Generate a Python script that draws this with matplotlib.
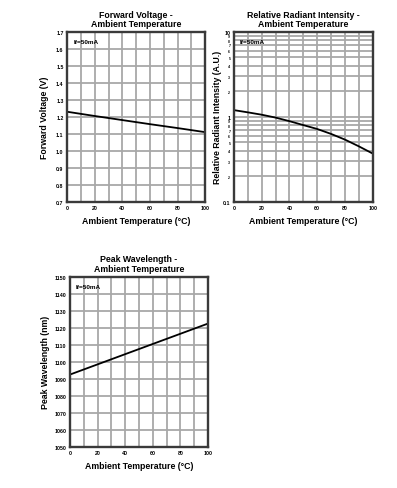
import numpy as np
import matplotlib.pyplot as plt
from matplotlib.ticker import MultipleLocator, FixedLocator, FixedFormatter

plt.rcParams['font.family'] = ['Liberation Sans', 'DejaVu Sans']
plt.rcParams['font.weight'] = 'bold'

# --- dados ---
temp = [0, 20, 40, 60, 80, 100]
vf = [1.23, 1.205, 1.181, 1.157, 1.134, 1.11]
temp_ri = [0, 10, 20, 30, 40, 50, 60, 70, 80, 90, 100]
ri = [1.20, 1.13, 1.06, 0.98, 0.89, 0.80, 0.72, 0.63, 0.54, 0.45, 0.37]
wl = [1092.5, 1098.5, 1104.5, 1110.5, 1116.5, 1122.5]

GRID = '#a8a8a8'
FRAME = '#3a3a3a'
TICK_FS = 3.8
LABEL_FS = 6.3


def estilo(ax):
    ax.grid(True, which='both', color=GRID, lw=1.3)
    ax.set_axisbelow(True)
    for s in ax.spines.values():
        s.set_color(FRAME)
        s.set_linewidth(1.7)
    ax.tick_params(which='both', length=0, pad=2.5, labelsize=TICK_FS)
    ax.set_xlim(0, 100)
    ax.xaxis.set_major_locator(MultipleLocator(20))
    ax.xaxis.set_minor_locator(MultipleLocator(10))
    ax.set_xlabel('Ambient Temperature (°C)', fontsize=LABEL_FS, fontweight='bold', labelpad=4)
    ax.text(0.045, 0.955, 'If=50mA', transform=ax.transAxes, fontsize=4.6,
            fontweight='bold', va='top', ha='left')


fig = plt.figure(figsize=(3.97, 4.89), dpi=100)

# 1. Tensão direta
ax1 = fig.add_axes([0.169, 0.585, 0.348, 0.348])
estilo(ax1)
ax1.plot(temp, vf, color='black', lw=1.3)
ax1.set_ylim(0.7, 1.7)
ax1.yaxis.set_major_locator(MultipleLocator(0.1))
ax1.yaxis.set_major_formatter(plt.FuncFormatter(lambda v, p: f'{v:.1f}'))
ax1.set_ylabel('Forward Voltage (V)', fontsize=LABEL_FS, fontweight='bold')
ax1.yaxis.set_label_coords(-0.13, 0.5)
ax1.set_title('Forward Voltage -\nAmbient Temperature', fontsize=LABEL_FS,
              fontweight='bold', pad=4, linespacing=1.1)

# 2. Intensidade relativa (log)
ax2 = fig.add_axes([0.589, 0.585, 0.350, 0.348])
estilo(ax2)
ax2.plot(temp_ri, ri, color='black', lw=1.3)
ax2.set_yscale('log')
ax2.set_ylim(0.1, 10)
ax2.yaxis.set_major_locator(FixedLocator([0.1, 1, 10]))
ax2.yaxis.set_major_formatter(FixedFormatter(['0.1', '1', '10']))
minors = [m * d for d in (0.1, 1) for m in range(2, 10)]
ax2.yaxis.set_minor_locator(FixedLocator(minors))
ax2.yaxis.set_minor_formatter(FixedFormatter([str(m) for d in (0.1, 1) for m in range(2, 10)]))
ax2.tick_params(axis='y', which='minor', labelsize=2.5, pad=2.5)
ax2.set_ylabel('Relative Radiant Intensity (A.U.)', fontsize=LABEL_FS, fontweight='bold')
ax2.yaxis.set_label_coords(-0.085, 0.5)
ax2.set_title('Relative Radiant Intensity -\nAmbient Temperature', fontsize=LABEL_FS,
              fontweight='bold', pad=4, linespacing=1.1)

# 3. Comprimento de onda de pico
ax3 = fig.add_axes([0.176, 0.084, 0.348, 0.348])
estilo(ax3)
ax3.plot(temp, wl, color='black', lw=1.3)
ax3.set_ylim(1050, 1150)
ax3.yaxis.set_major_locator(MultipleLocator(10))
ax3.set_ylabel('Peak Wavelength (nm)', fontsize=LABEL_FS, fontweight='bold')
ax3.yaxis.set_label_coords(-0.145, 0.5)
ax3.set_title('Peak Wavelength -\nAmbient Temperature', fontsize=LABEL_FS,
              fontweight='bold', pad=4, linespacing=1.1)

fig.savefig('out.png', dpi=100)
